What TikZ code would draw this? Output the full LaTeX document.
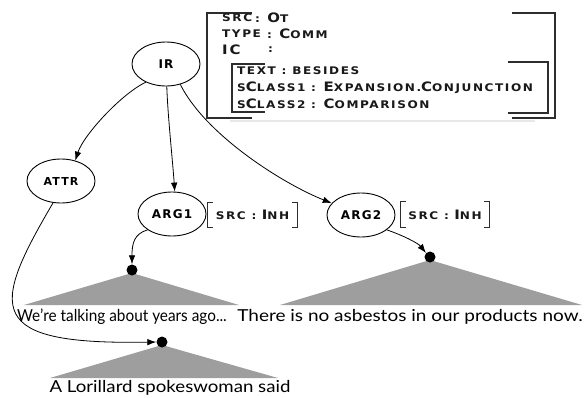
\documentclass[tikz,border=0pt]{standalone}
\usepackage{fontspec}
\setmainfont{Lato}
\newfontfamily\avmfont[LetterSpace=13]{DejaVu Sans}
\newfontfamily\nodefont[LetterSpace=10]{DejaVu Sans}
\usetikzlibrary{arrows.meta,shadows,shapes.geometric}
\newcommand\sm[1]{{\fontsize{10.5}{10}\selectfont #1}}
\newcommand\bg[1]{{\fontsize{13}{12}\selectfont #1}}
\newcommand\avmrow[1]{\scalebox{1.15}[1]{#1}}
\definecolor{trigray}{RGB}{158,158,158}
\definecolor{brkcol}{RGB}{45,45,45}
\begin{document}
\begin{tikzpicture}[x=1pt,y=-1pt,
  ell/.style={draw, ellipse, line width=0.9pt, minimum width=68pt, minimum height=44pt, inner sep=0pt, font=\nodefont\bfseries\fontsize{12}{12}\selectfont},
  dotnode/.style={circle, fill=black, minimum size=11pt, inner sep=0pt},
  arr/.style={-{Latex[length=9pt,width=6.5pt]}, line width=0.8pt},
  brk/.style={line width=1.1pt, draw=brkcol},
  avm/.style={font=\avmfont\bfseries, inner sep=0pt, text=black!90},
  tri/.style={fill=trigray},
  sent/.style={font=\fontsize{16.5}{18}\selectfont, inner sep=0pt}]
\useasboundingbox (0,0) rectangle (586,397);

% AVM box background
\fill[white, drop shadow={opacity=0.18, shadow xshift=0pt, shadow yshift=-2pt}] (230,9) rectangle (535,120);
\draw[brk] (252,13) -- (207,13) -- (207,118) -- (252,118);
\draw[brk] (512,13) -- (555,13) -- (555,118) -- (512,118);
\draw[brk] (265,64) -- (232,64) -- (232,112) -- (265,112);
\draw[brk] (508,62) -- (548,62) -- (548,113) -- (508,113);

\node[avm, anchor=west] (k1) at (222,18) {\avmrow{\sm{SRC}}};
\node[avm, anchor=west] (v1) at (255,18) {\avmrow{\sm{:} \bg{O}\sm{T}}};
\node[avm, anchor=west] (k2) at (222,34) {\avmrow{\sm{TYPE}}};
\node[avm, anchor=west] (v2) at (267,34) {\avmrow{\sm{:} \bg{C}\sm{OMM}}};
\node[avm, anchor=west] (k3) at (222,50) {\avmrow{\bg{IC}}};
\node[avm, anchor=west] (v3) at (268,50) {\avmrow{\sm{:}}};
\node[avm, anchor=west] (r4) at (237,71) {\avmrow{\sm{TEXT : BESIDES}}};
\node[avm, anchor=west] (r5) at (237,88) {\avmrow{\sm{S}\bg{C}\sm{LASS1 : }\bg{E}\sm{XPANSION.}\bg{C}\sm{ONJUNCTION}}};
\node[avm, anchor=west] (r6) at (237,104) {\avmrow{\sm{S}\bg{C}\sm{LASS2 : }\bg{C}\sm{OMPARISON}}};

% tree nodes
\node[ell] (ir) at (166,64) {IR};
\node[ell] (attr) at (61,181) {\fontsize{11}{12}\selectfont ATTR};
\node[ell] (arg1) at (172,214) {ARG1};
\node[ell] (arg2) at (361,215) {ARG2};

\node[avm, minimum width=89pt, minimum height=24pt] (s1) at (252.5,215) {\avmrow{\sm{SRC :} \bg{I}\sm{NH}}};
\node[avm, minimum width=88pt, minimum height=25pt] (s2) at (445,214.5) {\avmrow{\sm{SRC :} \bg{I}\sm{NH}}};
\foreach \b in {s1,s2}{
  \draw[brk] ([xshift=5pt]\b.north west) -- (\b.north west) -- (\b.south west) -- ([xshift=5pt]\b.south west);
  \draw[brk] ([xshift=-5pt]\b.north east) -- (\b.north east) -- (\b.south east) -- ([xshift=-5pt]\b.south east);
}

% triangles and dots
\fill[tri] (132,273) -- (239,305) -- (24,305) -- cycle;
\fill[tri] (430,260) -- (582,305) -- (280,305) -- cycle;
\fill[tri] (162,345) -- (278,378) -- (50,378) -- cycle;
\node[dotnode] (d1) at (132,270) {};
\node[dotnode] (d2) at (430,257) {};
\node[dotnode] (d3) at (162,342) {};

\node[sent] (t1) at (122,317) {\scalebox{0.93}[1]{We're talking about years ago...}};
\node[sent] (t2) at (410,317) {\scalebox{1.15}[1]{There is no asbestos in our products now.}};
\node[sent] (t3) at (170,388) {\scalebox{1.13}[1]{A Lorillard spokeswoman said}};

% connectors
\draw[arr] (ir.222) .. controls +(-25,12) and +(8,-25) .. (attr.55);
\draw[arr] (ir.272) .. controls +(1,30) and +(-2,-30) .. (arg1.83);
\draw[arr] (ir.-55) .. controls +(25,50) and +(-50,-20) .. (arg2.158);
\draw[arr] (arg1.213) .. controls +(-14,4) and +(0,-20) .. (d1.north);
\draw[arr] (arg2.-30) .. controls +(15,5) and +(-8,-10) .. (d2.135);
\draw[arr] (attr.250) .. controls (-10,310) and (-15,345) .. (d3.west);
\end{tikzpicture}
\end{document}
